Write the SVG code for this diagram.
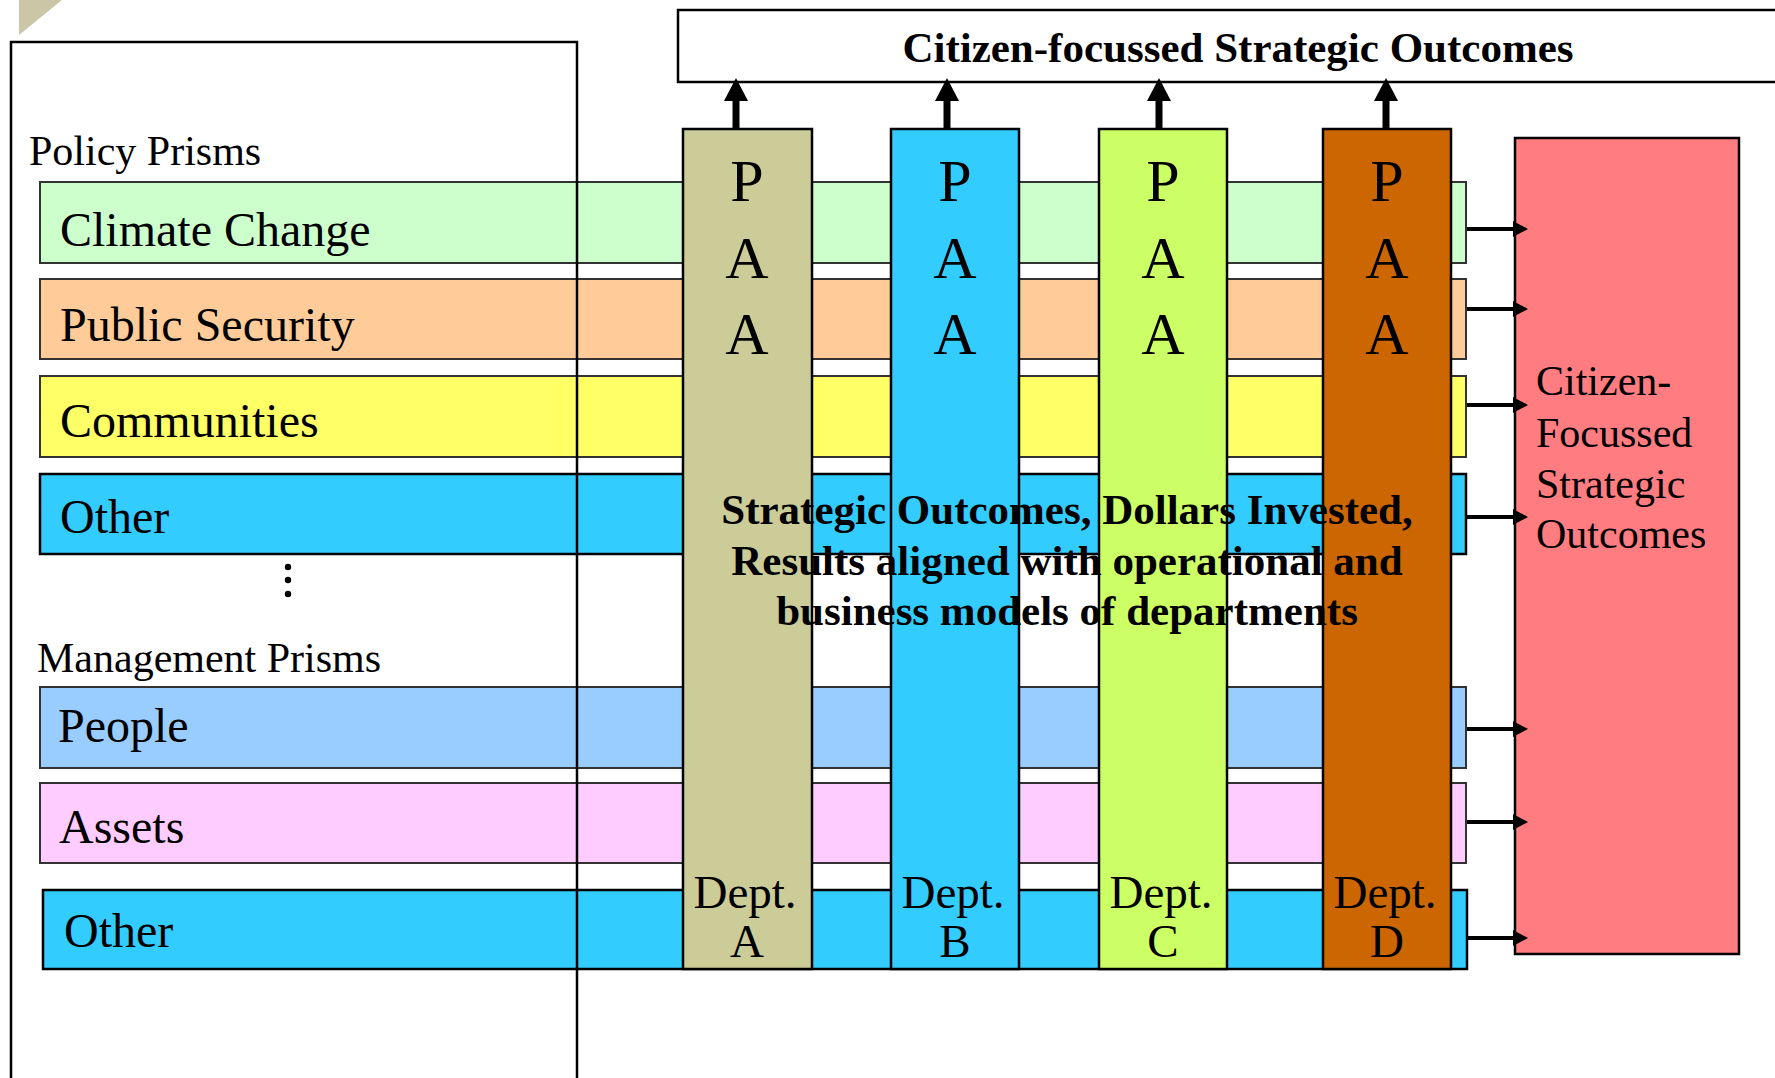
<svg xmlns="http://www.w3.org/2000/svg" width="1775" height="1078" viewBox="0 0 1775 1078">
<style>
  .bar { stroke: #333; stroke-width: 2; }
  .barb { stroke: #000; stroke-width: 2.5; }
  .col { stroke: #000; stroke-width: 2.5; }
  .lbl { font-family: "Liberation Serif", "Times New Roman", serif; font-size: 48px; fill: #000; }
  .hdr { font-family: "Liberation Serif", "Times New Roman", serif; font-size: 42px; fill: #000; }
  .paa { font-family: "Liberation Serif", "Times New Roman", serif; font-size: 60px; fill: #000; text-anchor: middle; }
  .dept { font-family: "Liberation Serif", "Times New Roman", serif; font-size: 47px; fill: #000; text-anchor: middle; }
  .bold { font-family: "Liberation Serif", "Times New Roman", serif; font-size: 43px; font-weight: bold; fill: #000; text-anchor: middle; }
  .conn-up { stroke: #000; stroke-width: 7; fill: none; }
  .conn-r { stroke: #000; stroke-width: 4; fill: none; }
</style>
<defs>
  <marker id="headUp" markerUnits="userSpaceOnUse" viewBox="0 0 23 24" markerWidth="23" markerHeight="24" refX="0" refY="12" orient="auto">
    <path d="M0,0 L23,12 L0,24 z" fill="#000"/>
  </marker>
  <marker id="headR" markerUnits="userSpaceOnUse" viewBox="0 0 15 16" markerWidth="15" markerHeight="16" refX="0" refY="8" orient="auto">
    <path d="M0,0 L15,8 L0,16 z" fill="#000"/>
  </marker>
</defs>

<polygon points="19,0 62,0 19,35" fill="#cbc7a6"/>

<g id="bars">
  <g id="bar-climate"><rect class="bar" x="40" y="182" width="1426" height="81" fill="#ccffcc"/><text class="lbl" x="60" y="246">Climate Change</text></g>
  <g id="bar-security"><rect class="bar" x="40" y="279" width="1426" height="80" fill="#ffcc99"/><text class="lbl" x="60" y="341">Public Security</text></g>
  <g id="bar-communities"><rect class="bar" x="40" y="376" width="1426" height="81" fill="#ffff66"/><text class="lbl" x="60" y="437">Communities</text></g>
  <g id="bar-other1"><rect class="barb" x="40" y="474" width="1426" height="80" fill="#33ccff"/><text class="lbl" x="60" y="533">Other</text></g>
  <g id="bar-people"><rect class="bar" x="40" y="687" width="1426" height="81" fill="#99ccff"/><text class="lbl" x="58" y="742">People</text></g>
  <g id="bar-assets"><rect class="bar" x="40" y="783" width="1426" height="80" fill="#ffccff"/><text class="lbl" x="59" y="843">Assets</text></g>
  <g id="bar-other2"><rect class="barb" x="43" y="890" width="1424" height="79" fill="#33ccff"/><text class="lbl" x="64" y="947">Other</text></g>
</g>

<g id="prisms-frame">
  <rect x="11" y="42" width="566" height="1100" fill="none" stroke="#000" stroke-width="2.5"/>
  <text class="hdr" x="29" y="165">Policy Prisms</text>
  <text class="hdr" x="37" y="672">Management Prisms</text>
  <circle cx="288" cy="567" r="3.2" fill="#000"/>
  <circle cx="288" cy="580" r="3.2" fill="#000"/>
  <circle cx="288" cy="594" r="3.2" fill="#000"/>
</g>

<g id="top-outcomes">
  <rect x="678" y="10" width="1200" height="72" fill="#fff" stroke="#000" stroke-width="2.5"/>
  <text class="bold" x="1238" y="62">Citizen-focussed Strategic Outcomes</text>
</g>

<g id="dept-a">
  <rect class="col" x="683" y="129" width="129" height="840" fill="#cccc99"/>
  <text class="paa" x="747" y="201">P</text><text class="paa" x="747" y="278">A</text><text class="paa" x="747" y="354">A</text>
  <text class="dept" x="745" y="908">Dept.</text><text class="dept" x="747" y="957">A</text>
</g>
<g id="dept-b">
  <rect class="col" x="891" y="129" width="128" height="840" fill="#33ccff"/>
  <text class="paa" x="955" y="201">P</text><text class="paa" x="955" y="278">A</text><text class="paa" x="955" y="354">A</text>
  <text class="dept" x="953" y="908">Dept.</text><text class="dept" x="955" y="957">B</text>
</g>
<g id="dept-c">
  <rect class="col" x="1099" y="129" width="128" height="840" fill="#ccff66"/>
  <text class="paa" x="1163" y="201">P</text><text class="paa" x="1163" y="278">A</text><text class="paa" x="1163" y="354">A</text>
  <text class="dept" x="1161" y="908">Dept.</text><text class="dept" x="1163" y="957">C</text>
</g>
<g id="dept-d">
  <rect class="col" x="1323" y="129" width="128" height="840" fill="#cc6600"/>
  <text class="paa" x="1387" y="201">P</text><text class="paa" x="1387" y="278">A</text><text class="paa" x="1387" y="354">A</text>
  <text class="dept" x="1385" y="908">Dept.</text><text class="dept" x="1387" y="957">D</text>
</g>

<g id="citizen-outcomes">
  <rect x="1515" y="138" width="224" height="816" fill="#ff7c80" stroke="#000" stroke-width="2.5"/>
  <text class="hdr" x="1536" y="395">Citizen-</text>
  <text class="hdr" x="1536" y="447">Focussed</text>
  <text class="hdr" x="1536" y="498">Strategic</text>
  <text class="hdr" x="1536" y="548">Outcomes</text>
</g>

<g id="connectors">
  <line class="conn-up" x1="736" y1="129" x2="736" y2="101" marker-end="url(#headUp)"/>
  <line class="conn-up" x1="947" y1="129" x2="947" y2="101" marker-end="url(#headUp)"/>
  <line class="conn-up" x1="1159" y1="129" x2="1159" y2="101" marker-end="url(#headUp)"/>
  <line class="conn-up" x1="1386" y1="129" x2="1386" y2="101" marker-end="url(#headUp)"/>
  <line class="conn-r" x1="1467" y1="229" x2="1513" y2="229" marker-end="url(#headR)"/>
  <line class="conn-r" x1="1467" y1="309" x2="1513" y2="309" marker-end="url(#headR)"/>
  <line class="conn-r" x1="1467" y1="405" x2="1513" y2="405" marker-end="url(#headR)"/>
  <line class="conn-r" x1="1467" y1="517" x2="1513" y2="517" marker-end="url(#headR)"/>
  <line class="conn-r" x1="1467" y1="729" x2="1513" y2="729" marker-end="url(#headR)"/>
  <line class="conn-r" x1="1467" y1="822" x2="1513" y2="822" marker-end="url(#headR)"/>
  <line class="conn-r" x1="1468" y1="938" x2="1513" y2="938" marker-end="url(#headR)"/>
</g>

<g id="center-text">
  <text class="bold" x="1067" y="524">Strategic Outcomes, Dollars Invested,</text>
  <text class="bold" x="1067" y="575">Results aligned with operational and</text>
  <text class="bold" x="1067" y="625">business models of departments</text>
</g>
</svg>
